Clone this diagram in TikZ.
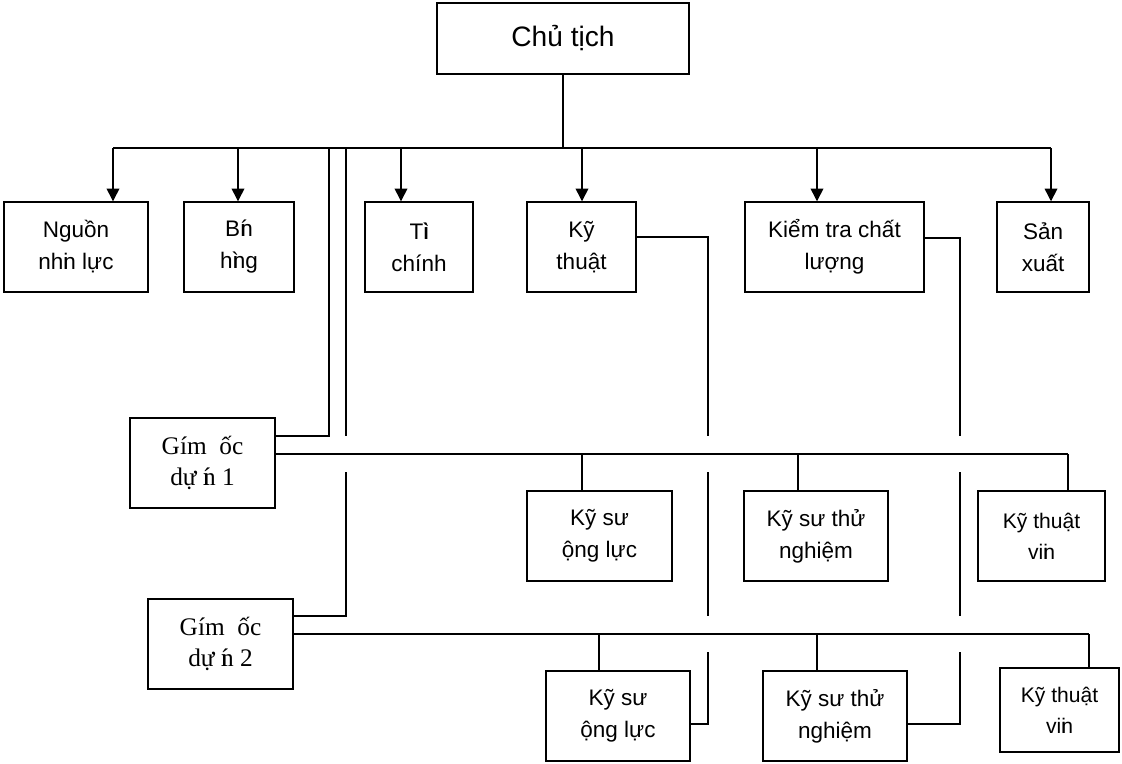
\documentclass[tikz,border=0pt]{standalone}
\usepackage{fontspec}
\setmainfont{Liberation Sans}
\newfontfamily\timesfont{Liberation Serif}
\usetikzlibrary{arrows.meta}
\newcommand{\ovl}[2]{\rlap{#1}#2}

\begin{document}
\begin{tikzpicture}[>={Triangle[width=9pt,length=9pt]}, x=0.025cm, y=-0.025cm, line width=1pt,
        box/.style={draw, inner sep=0pt, align=center, minimum height=2.25cm, font=\fontsize{16}{22.8}\selectfont},
        gdbox/.style={box, minimum width=3.625cm, font=\timesfont\fontsize{18}{22}\selectfont},
        ktvbox/.style={box, font=\fontsize{15}{22}\selectfont}]
        \useasboundingbox (0,0) rectangle (1122,763);
        % top
        \node[box, minimum width=6.3cm, minimum height=1.775cm, font=\fontsize{20}{24}\selectfont] (chutich) at (563,38.5) {Chủ tịch};
        \node[box, minimum width=3.6cm] (nhanluc) at (76,247) {Nguồn\\nh\ovl{i}{n} lực};
        \node[box, minimum width=2.75cm] (banhang) at (239,247) {B\ovl{í}{n}\\h\ovl{ì}{n}g};
        \node[box, minimum width=2.7cm] (taichinh) at (419,247) {T\ovl{ì}{i}\\chính};
        \node[box, minimum width=2.725cm] (kythuat) at (581.5,247) {Kỹ\\thuật};
        \node[box, minimum width=4.475cm] (kiemtra) at (834.5,247) {Kiểm tra chất\\lượng};
        \node[box, minimum width=2.3cm] (sanxuat) at (1043,247) {Sản\\xuất};
        % du an 1
        \node[gdbox] (gd1) at (202.5,463) {Gím~~ốc\\dự \ovl{í}{n} 1};
        \node[box, minimum width=3.625cm] (ksdl1) at (599.5,536) {Kỹ sư\\ộng lực};
        \node[box, minimum width=3.6cm] (kstn1) at (816,536) {Kỹ sư thử\\nghiệm};
        \node[ktvbox, minimum width=3.175cm] (ktv1) at (1041.5,536) {Kỹ thuật\\vi\ovl{i}{n}};
        % du an 2
        \node[gdbox] (gd2) at (220.5,644) {Gím~~ốc\\dự \ovl{í}{n} 2};
        \node[box, minimum width=3.6cm] (ksdl2) at (618,716) {Kỹ sư\\ộng lực};
        \node[box, minimum width=3.6cm] (kstn2) at (835,716) {Kỹ sư thử\\nghiệm};
        \node[ktvbox, minimum width=2.975cm, minimum height=2.1cm] (ktv2) at (1059.5,710) {Kỹ thuật\\vi\ovl{i}{n}};
        % chu tich
        \draw (chutich.south) -- (chutich.south |- 0,148);
        \draw (113,148) -- (1051,148);
        \draw[->] (113,148) -- (113,148 |- nhanluc.north);
        \draw[->] (238,148) -- (238,148 |- banhang.north);
        \draw[->] (401,148) -- (401,148 |- taichinh.north);
        \draw[->] (582,148) -- (582,148 |- kythuat.north);
        \draw[->] (817,148) -- (817,148 |- kiemtra.north);
        \draw[->] (1051,148) -- (1051,148 |- sanxuat.north);
        \draw (329,148) -- (329,436) -- (gd1.east |- 0,436);
        \draw (346,148) -- (346,436);
        \draw (346,472) -- (346,616) -- (gd2.east |- 0,616);
        % giam doc 1
        \draw (gd1.east |- 0,454) -- (1068,454);
        \draw (582,454) -- (582,454 |- ksdl1.north);
        \draw (798,454) -- (798,454 |- kstn1.north);
        \draw (1068,454) -- (1068,454 |- ktv1.north);
        % giam doc 2
        \draw (gd2.east |- 0,634) -- (1089,634);
        \draw (599,634) -- (599,634 |- ksdl2.north);
        \draw (817,634) -- (817,634 |- kstn2.north);
        \draw (1089,634) -- (1089,634 |- ktv2.north);
        % ky thuat, kiem tra
        \draw (kythuat.east |- 0,237) -- (708,237) -- (708,436);
        \draw (708,472) -- (708,616);
        \draw (708,652) -- (708,724) -- (ksdl2.east |- 0,724);
        \draw (kiemtra.east |- 0,238) -- (960,238) -- (960,436);
        \draw (960,472) -- (960,616);
        \draw (960,652) -- (960,724) -- (kstn2.east |- 0,724);
\end{tikzpicture}
\end{document}
